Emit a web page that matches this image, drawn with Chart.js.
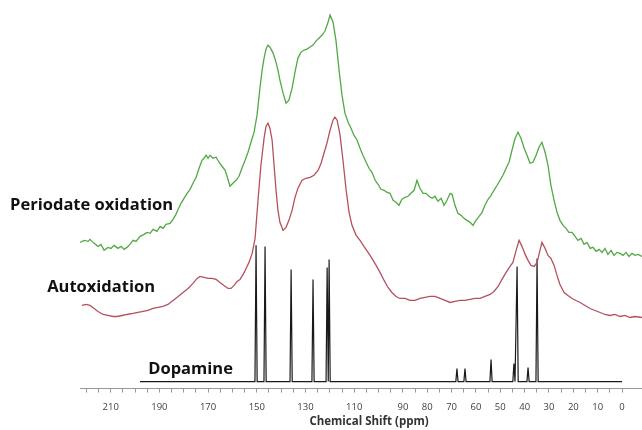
<!DOCTYPE html>
<html>
<head>
<meta charset="utf-8">
<script src="https://cdn.jsdelivr.net/npm/chart.js@4.4.1/dist/chart.umd.min.js"></script>
<style>
    html, body { margin: 0; padding: 0; background: #fff; }
    #wrap { width: 642px; height: 430px; position: relative; }
</style>
</head>
<body>
<div id="wrap"><canvas id="nmrChart"></canvas></div>
<script>
// Chemical shift tick labels shown under the axis
const tickLabels = [210, 190, 170, 150, 130, 110, 90, 80, 70, 60, 50, 40, 30, 20, 10, 0];

// Periodate oxidation (green) - ppm / intensity (stacked offset included)
const periodatePpm = [222.6, 220.9, 219.3, 218.5, 216.8, 215.2, 214.0, 212.7, 211.1, 209.9, 208.6, 207.0, 205.7, 204.5, 203.3, 202.1, 200.8, 199.6, 197.9, 196.3, 195.1, 193.8, 192.6, 191.0, 189.7, 188.5, 187.3, 185.6, 184.4, 183.2, 182.3, 181.1, 179.9, 178.6, 177.4, 176.2, 174.9, 173.7, 172.5, 171.7, 170.8, 170.0, 169.2, 168.0, 166.7, 165.5, 164.3, 163.0, 162.2, 161.0, 159.8, 158.5, 157.3, 156.1, 154.8, 153.6, 152.4, 151.1, 149.9, 148.7, 147.8, 147.0, 146.2, 145.4, 144.6, 143.3, 142.1, 141.3, 140.5, 139.2, 138.0, 136.8, 135.5, 134.3, 133.1, 131.8, 130.6, 129.4, 128.1, 126.9, 125.7, 124.4, 123.2, 122.0, 120.7, 119.9, 118.7, 117.5, 116.2, 115.0, 113.8, 112.5, 111.3, 110.1, 108.8, 107.6, 106.4, 105.1, 103.9, 102.7, 101.4, 100.2, 99.0, 97.7, 96.5, 95.3, 94.0, 92.8, 91.6, 90.4, 89.1, 87.9, 86.7, 85.4, 84.2, 83.0, 81.7, 80.5, 79.3, 78.0, 76.8, 75.6, 74.3, 73.1, 71.9, 70.6, 69.8, 68.6, 67.4, 66.1, 64.9, 63.7, 62.4, 61.2, 60.0, 58.7, 57.5, 56.3, 55.0, 53.8, 52.6, 51.3, 50.1, 48.9, 47.6, 46.4, 45.2, 43.9, 42.7, 41.5, 40.2, 39.0, 37.8, 36.6, 35.3, 34.1, 32.9, 31.6, 30.4, 29.2, 27.9, 26.7, 25.5, 24.2, 23.0, 21.8, 20.5, 19.3, 18.1, 16.8, 15.6, 14.4, 13.1, 11.9, 10.7, 9.4, 8.2, 7.0, 5.8, 4.5, 3.3, 2.1, 0.8, -0.4, -1.6, -2.9, -4.1, -5.3, -6.6, -8.2];
const periodateValues = [146, 148, 147, 149, 145, 142, 144, 138, 141, 140, 143, 140, 142, 139, 141, 144, 148, 147, 152, 154, 156, 155, 159, 157, 162, 160, 164, 165, 169, 174, 179, 185, 190, 195, 199, 205, 211, 220, 228, 230, 233, 230, 233, 230, 231, 226, 222, 218, 212, 202, 205, 208, 212, 220, 228, 236, 246, 256, 273, 300, 318, 330, 339, 343, 341, 335, 326, 318, 308, 295, 285, 288, 300, 316, 330, 336, 338, 339, 341, 343, 347, 350, 353, 357, 366, 373, 366, 348, 318, 293, 275, 266, 260, 253, 248, 240, 233, 226, 220, 216, 208, 204, 199, 198, 196, 195, 188, 186, 183, 189, 191, 192, 195, 198, 208, 200, 195, 195, 192, 190, 192, 187, 190, 183, 188, 195, 194, 183, 175, 173, 170, 168, 166, 163, 168, 172, 176, 183, 189, 193, 198, 203, 208, 213, 220, 226, 238, 250, 256, 250, 240, 233, 225, 226, 233, 241, 246, 236, 223, 203, 188, 176, 168, 163, 160, 156, 156, 152, 148, 150, 144, 146, 140, 141, 137, 139, 136, 140, 134, 138, 133, 136, 135, 133, 136, 132, 135, 133, 134, 132];

// Autoxidation (red)
const autoxPpm = [221.8, 220.1, 218.5, 216.8, 215.2, 213.1, 211.1, 209.0, 207.4, 205.3, 203.3, 200.8, 198.8, 196.7, 194.7, 192.6, 190.6, 188.5, 186.5, 184.4, 182.3, 180.3, 178.2, 176.2, 174.5, 173.3, 171.7, 170.0, 168.4, 166.7, 165.1, 163.5, 161.8, 160.6, 159.3, 158.1, 156.9, 155.6, 154.4, 153.2, 151.9, 150.7, 149.5, 148.3, 147.0, 146.2, 145.4, 144.6, 143.7, 142.9, 142.1, 141.3, 140.5, 139.2, 138.0, 136.8, 135.5, 134.3, 133.1, 131.4, 129.8, 128.1, 126.5, 124.8, 123.6, 122.4, 121.2, 119.9, 118.7, 117.9, 117.0, 115.8, 114.6, 113.3, 112.1, 110.9, 109.2, 107.6, 106.0, 104.3, 102.7, 101.0, 99.4, 97.7, 96.1, 94.5, 92.8, 91.2, 89.1, 87.1, 85.0, 83.0, 80.9, 78.9, 76.8, 74.7, 72.7, 70.6, 68.6, 66.5, 64.5, 62.4, 60.4, 58.3, 56.3, 54.2, 52.6, 50.9, 49.3, 47.6, 46.0, 44.8, 43.5, 42.3, 41.1, 39.8, 38.6, 37.4, 36.1, 34.9, 33.7, 32.9, 31.6, 30.4, 29.2, 27.9, 26.7, 25.5, 23.8, 22.2, 20.5, 18.9, 17.2, 15.2, 13.1, 11.1, 9.0, 7.0, 4.9, 2.9, 0.8, -1.2, -3.3, -5.3, -8.2];
const autoxValues = [83, 84, 83, 80, 77, 74, 73, 72, 72, 73, 74, 75, 76, 77, 78, 80, 81, 82, 84, 88, 92, 96, 100, 105, 110, 112, 111, 110, 110, 109, 106, 103, 100, 100, 103, 107, 109, 114, 120, 126, 135, 150, 188, 223, 250, 262, 265, 260, 248, 223, 198, 178, 166, 158, 161, 168, 178, 191, 200, 208, 210, 211, 213, 218, 225, 235, 245, 258, 268, 271, 268, 253, 228, 198, 176, 163, 153, 148, 142, 136, 130, 123, 116, 108, 101, 96, 92, 90, 90, 88, 88, 90, 91, 92, 92, 90, 88, 86, 87, 88, 88, 89, 90, 90, 92, 94, 97, 102, 109, 116, 122, 126, 138, 148, 142, 134, 128, 123, 122, 126, 138, 146, 140, 133, 130, 123, 113, 104, 96, 93, 90, 88, 86, 83, 80, 78, 76, 74, 73, 74, 72, 73, 71, 72, 71];

// Dopamine (black) - sharp lines: shift and peak height, drawn on a flat baseline
const dopaminePeaks = [150.3, 146.6, 135.9, 126.9, 121.1, 120.3, 67.8, 64.5, 53.8, 44.4, 43.1, 38.6, 34.9];
const dopamineHeights = [143, 142, 119, 109, 121, 129, 20, 20, 29, 25, 122, 21, 130];
const dopamineBaseline = 7;
const dopamineRange = [198, 0];

function toPoints(xs, ys) {
    return xs.map((x, i) => ({ x: x, y: ys[i] }));
}

function dopaminePoints() {
    const pts = [{ x: dopamineRange[0], y: dopamineBaseline }];
    const half = 0.45;
    dopaminePeaks.forEach((p, i) => {
        pts.push({ x: p + half, y: dopamineBaseline });
        pts.push({ x: p, y: dopamineHeights[i] });
        pts.push({ x: p - half, y: dopamineBaseline });
    });
    pts.push({ x: dopamineRange[1], y: dopamineBaseline });
    return pts;
}

// Trace names next to each spectrum, and the axis title
const traceLabels = {
    id: 'traceLabels',
    afterDatasetsDraw(chart) {
        const { ctx, chartArea, scales: { x, y } } = chart;
        ctx.save();
        ctx.fillStyle = '#111';
        ctx.font = 'bold 16.5px "Open Sans"';
        ctx.textAlign = 'right';
        ctx.textBaseline = 'middle';
        ctx.fillText('Periodate oxidation', x.getPixelForValue(184.4), y.getPixelForValue(183));
        ctx.fillText('Autoxidation', x.getPixelForValue(191.8), y.getPixelForValue(101));
        ctx.fillText('Dopamine', x.getPixelForValue(159.8), y.getPixelForValue(19));

        ctx.fillStyle = '#333';
        ctx.font = 'bold 11.5px "Open Sans"';
        ctx.textAlign = 'center';
        ctx.fillText('Chemical Shift (ppm)', x.getPixelForValue(103.9), chartArea.bottom + 33);
        ctx.restore();
    }
};

document.addEventListener('DOMContentLoaded', () => {
    const ctx = document.getElementById('nmrChart').getContext('2d');
    new Chart(ctx, {
        type: 'line',
        data: {
            datasets: [
                {
                    label: 'Periodate oxidation',
                    data: toPoints(periodatePpm, periodateValues),
                    borderColor: '#52a844',
                    borderWidth: 1.3,
                    pointRadius: 0,
                    tension: 0
                },
                {
                    label: 'Autoxidation',
                    data: toPoints(autoxPpm, autoxValues),
                    borderColor: '#b4515e',
                    borderWidth: 1.3,
                    pointRadius: 0,
                    tension: 0
                },
                {
                    label: 'Dopamine',
                    data: dopaminePoints(),
                    borderColor: '#1a1a1a',
                    borderWidth: 1.2,
                    pointRadius: 0,
                    tension: 0
                }
            ]
        },
        options: {
            responsive: true,
            maintainAspectRatio: false,
            animation: false,
            layout: { padding: { left: 80, right: 0, top: 0, bottom: 8 } },
            plugins: {
                legend: { display: false },
                tooltip: { enabled: false }
            },
            scales: {
                x: {
                    type: 'linear',
                    reverse: true,
                    min: -8.2,
                    max: 222.6,
                    afterBuildTicks: (scale) => {
                        const ticks = [];
                        for (let v = 220; v >= 0; v -= 5) ticks.push({ value: v });
                        scale.ticks = ticks;
                    },
                    grid: {
                        drawOnChartArea: false,
                        drawTicks: true,
                        tickLength: 4,
                        color: '#999'
                    },
                    border: { display: true, color: '#999', width: 1 },
                    ticks: {
                        autoSkip: false,
                        maxRotation: 0,
                        padding: 9,
                        color: '#404040',
                        font: { family: '"Open Sans"', size: 9.5 },
                        callback: (v) => tickLabels.includes(v) ? String(v) : ''
                    }
                },
                y: {
                    display: false,
                    min: 0,
                    max: 388
                }
            }
        },
        plugins: [traceLabels]
    });
});
</script>
</body>
</html>
